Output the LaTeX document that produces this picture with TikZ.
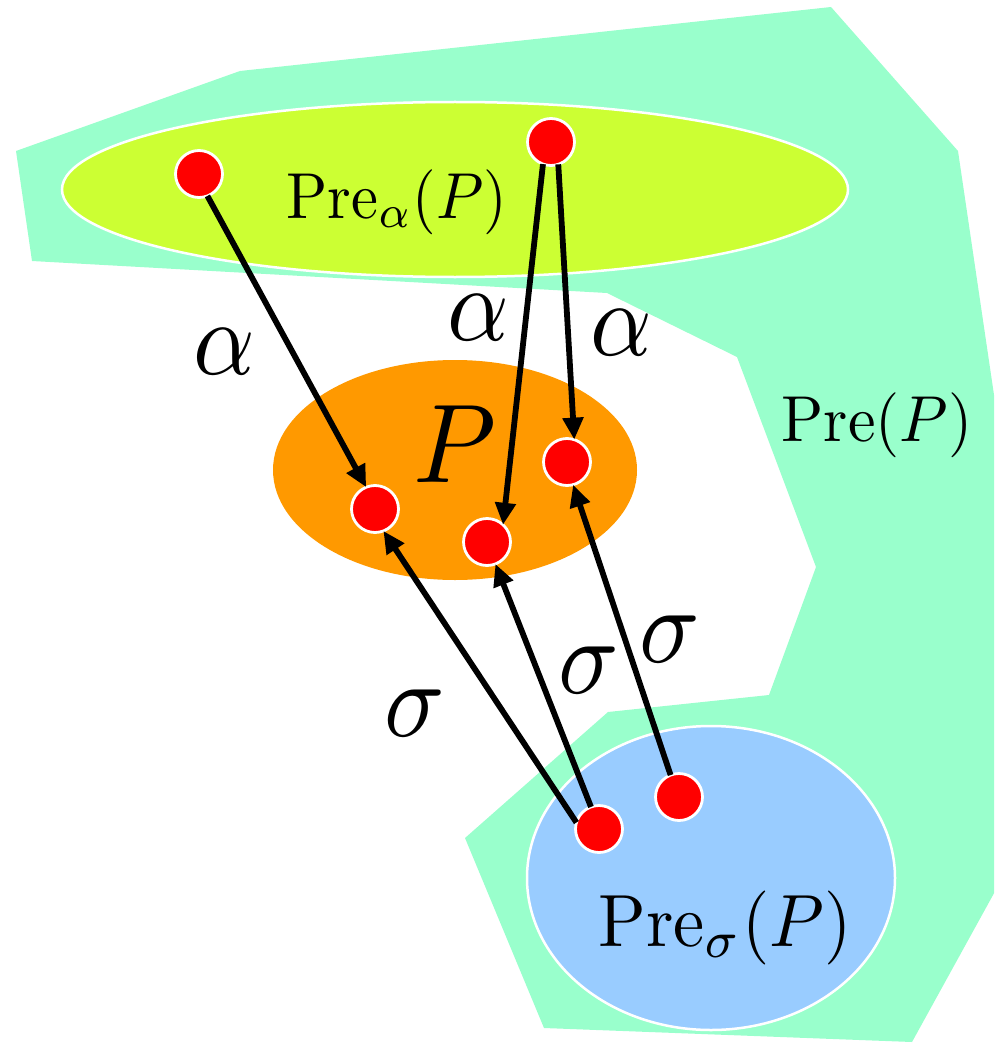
\RequirePackage{fix-cm}
\documentclass[tikz,border=0pt]{standalone}
\usetikzlibrary{arrows.meta}
\definecolor{regiongreen}{RGB}{153,255,204}
\definecolor{alphayellow}{RGB}{204,255,51}
\definecolor{porange}{RGB}{255,153,0}
\definecolor{sigmablue}{RGB}{153,204,255}
\tikzset{
  dot/.style={circle, fill=red, draw=white, line width=2.8pt, minimum size=47pt, inner sep=0pt, outer sep=0pt},
  arr/.style={line width=5.8pt, -{Triangle[length=22pt,width=20pt]}},
  lbl/.style={inner sep=0pt},
}
\begin{document}
\begin{tikzpicture}[x=1pt,y=-1pt]
\useasboundingbox (0,0) rectangle (994,1043);
\begin{scope}
\clip (0,0) rectangle (994,1043);
\fill[regiongreen] (16,151) -- (240,71) -- (831,7) -- (958,151) -- (1052,788) -- (912,1042) -- (544,1028) -- (465,838) -- (608,712) -- (769,695) -- (816,567) -- (737,357) -- (607,293) -- (32,261) -- cycle;
\end{scope}
\draw[fill=alphayellow, draw=white, line width=2.5pt] (455,189.5) ellipse [x radius=393, y radius=87.5];
\fill[porange] (455,470) ellipse [x radius=182, y radius=110];
\draw[fill=sigmablue, draw=white, line width=2.5pt] (711,878) ellipse [x radius=184, y radius=152];

\node[anchor=base, inner sep=0pt] (prealpha) at (397,218) {\scalebox{6.05}[6.5]{$\mathrm{Pre}_\alpha(P)$}};
\node[anchor=base, inner sep=0pt] (pre) at (877,441) {\scalebox{6.2}[6.5]{$\mathrm{Pre}(P)$}};
\node[anchor=base, inner sep=0pt] (presigma) at (725,946) {\scalebox{7.0}[7.4]{$\mathrm{Pre}_\sigma(P)$}};
\node[anchor=base, inner sep=0pt] (plabel) at (455,482) {\scalebox{10.6}[11.2]{$P$}};

\node[lbl] (al1) at (224,352) {\scalebox{9.6}[10.6]{$\alpha$}};
\node[lbl] (al2) at (478,318) {\scalebox{9.6}[10.6]{$\alpha$}};
\node[lbl] (al3) at (621,333) {\scalebox{9.6}[10.6]{$\alpha$}};
\node[lbl] (sg1) at (415,713) {\scalebox{10}[10.8]{$\sigma$}};
\node[lbl] (sg2) at (589,670) {\scalebox{10}[10.8]{$\sigma$}};
\node[lbl] (sg3) at (670,639) {\scalebox{10}[10.8]{$\sigma$}};

\node[dot] (A1) at (199,174) {};
\node[dot] (A2) at (551,142) {};
\node[dot] (P1) at (375,509) {};
\node[dot] (P2) at (487,542) {};
\node[dot] (P3) at (567,462) {};
\node[dot] (S1) at (599,829) {};
\node[dot] (S2) at (679,797) {};

\draw[arr] (A1.291) -- (P1.112);
\draw[arr] (A2.250) -- (P2.47);
\draw[arr] (A2.288) -- (P3.72);
\draw[arr] (S1.164) -- (P1.291);
\draw[arr] (S1.110) -- (P2.291);
\draw[arr] (S2.111) -- (P3.285);
\end{tikzpicture}
\end{document}
